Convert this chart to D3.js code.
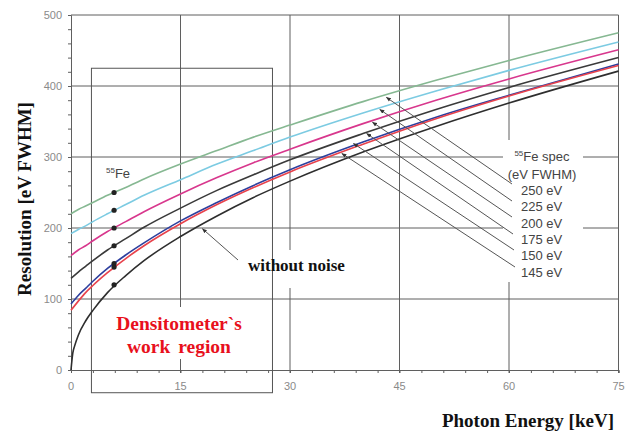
<!DOCTYPE html>
<html>
<head>
<meta charset="utf-8">
<script src="https://cdn.jsdelivr.net/npm/d3@7"></script>
<style>
	body { margin: 0; background: #fff; }
	svg { display: block; }
</style>
</head>
<body>
<div id="chart"></div>
<script>
const energies = [0, 1, 2, 3, 5, 7.5, 10, 15, 20, 25, 30, 40, 50, 60, 75]
const energiesBare = [0, 0.25, 0.5, 1, 2, 3, 5, 7.5, 10, 15, 20, 25, 30, 40, 50, 60, 75]

// resolution (eV FWHM) for each 55Fe spec
const res250 = [220, 226, 231, 236, 246, 257, 269, 290, 309, 328, 345, 378, 408, 436, 475]
const res225 = [192, 198, 203, 209, 220, 233, 246, 268, 290, 309, 328, 362, 393, 422, 462]
const res200 = [161, 169, 175, 182, 195, 209, 223, 248, 271, 292, 311, 347, 380, 410, 451]
const res175 = [129, 138, 146, 154, 169, 185, 201, 228, 253, 275, 296, 333, 367, 398, 440]
const res150 = [93, 105, 115, 125, 143, 162, 179, 210, 236, 260, 282, 321, 356, 387, 431]
const res145 = [84, 97, 109, 119, 137, 157, 175, 206, 233, 257, 279, 318, 354, 386, 429]
const resBare = [0, 24, 34, 49, 69, 84, 109, 133, 154, 188, 217, 243, 266, 307, 343, 376, 421]

// 55Fe points at 5.9 keV
const feEnergy = 5.9
const feValues = [250, 225, 200, 175, 150, 145, 120]

const specLabels = ["250 eV", "225 eV", "200 eV", "175 eV", "150 eV", "145 eV"]
const xTicks = [0, 15, 30, 45, 60, 75]
const yTicks = [0, 100, 200, 300, 400, 500]

const series = [
	{ values: res250, color: "#86b892" },
	{ values: res225, color: "#7ccbe2" },
	{ values: res200, color: "#d8378d" },
	{ values: res175, color: "#3a3a3a" },
	{ values: res150, color: "#2d3f9e" },
	{ values: res145, color: "#e8424c" }
]

const width = 627, height = 434
const margin = { top: 15, right: 8.5, bottom: 64, left: 71 }

const svg = d3.select("#chart")
	.append("svg")
	.attr("width", width)
	.attr("height", height)

const x = d3.scaleLinear().domain([0, 75]).range([margin.left, width - margin.right])
const y = d3.scaleLinear().domain([0, 500]).range([height - margin.bottom, margin.top])

const gridColor = "#5f5f5f"

// grid
svg.append("g")
	.selectAll("line")
	.data(yTicks.slice(1))
	.enter()
	.append("line")
		.attr("x1", x(0)).attr("x2", x(75))
		.attr("y1", d => y(d)).attr("y2", d => y(d))
		.attr("stroke", gridColor)
		.attr("stroke-width", 1)

svg.append("g")
	.selectAll("line")
	.data(xTicks.slice(1))
	.enter()
	.append("line")
		.attr("x1", d => x(d)).attr("x2", d => x(d))
		.attr("y1", y(0) + 3).attr("y2", y(500))
		.attr("stroke", gridColor)
		.attr("stroke-width", 1)

// axes with minor ticks
const xAxis = d3.axisBottom(x)
	.tickValues(d3.range(0, 76, 3))
	.tickSize(3)
	.tickFormat("")
const yAxis = d3.axisLeft(y)
	.tickValues(d3.range(0, 501, 20))
	.tickSize(3)
	.tickFormat("")

svg.append("g")
	.attr("transform", `translate(0,${y(0)})`)
	.call(xAxis)
	.call(g => g.select(".domain").attr("stroke", gridColor))
	.call(g => g.selectAll(".tick line").attr("stroke", gridColor))

svg.append("g")
	.attr("transform", `translate(${x(0)},0)`)
	.call(yAxis)
	.call(g => g.select(".domain").attr("stroke", gridColor))
	.call(g => g.selectAll(".tick line").attr("stroke", gridColor))

// tick labels
svg.append("g")
	.selectAll("text")
	.data(xTicks)
	.enter()
	.append("text")
		.attr("x", d => x(d))
		.attr("y", y(0) + 20)
		.attr("text-anchor", "middle")
		.attr("font-family", "Liberation Sans, Arial, sans-serif")
		.attr("font-size", 11)
		.attr("fill", "#8a8a8a")
		.text(d => d)

svg.append("g")
	.selectAll("text")
	.data(yTicks)
	.enter()
	.append("text")
		.attr("x", x(0) - 9)
		.attr("y", d => y(d) + 4)
		.attr("text-anchor", "end")
		.attr("font-family", "Liberation Sans, Arial, sans-serif")
		.attr("font-size", 11)
		.attr("fill", "#8a8a8a")
		.text(d => d)

// white patches behind annotations (grid is broken there)
const masks = [
	[110, 307, 140, 52],
	[244, 250, 108, 38],
	[503, 140, 80, 142]
]
svg.append("g")
	.selectAll("rect")
	.data(masks)
	.enter()
	.append("rect")
		.attr("x", d => d[0]).attr("y", d => d[1])
		.attr("width", d => d[2]).attr("height", d => d[3])
		.attr("fill", "#fff")

// work region box
svg.append("rect")
	.attr("x", x(2.8))
	.attr("y", y(425))
	.attr("width", x(27.6) - x(2.8))
	.attr("height", y(-32) - y(425))
	.attr("fill", "none")
	.attr("stroke", "#555")
	.attr("stroke-width", 1)

// curves
const line = d3.line()
	.x(d => x(d[0]))
	.y(d => y(d[1]))
	.curve(d3.curveMonotoneX)

series.forEach(s => {
	svg.append("path")
		.datum(energies.map((e, i) => [e, s.values[i]]))
		.attr("d", line)
		.attr("fill", "none")
		.attr("stroke", s.color)
		.attr("stroke-width", 1.6)
})

svg.append("path")
	.datum(energiesBare.map((e, i) => [e, resBare[i]]))
	.attr("d", line)
	.attr("fill", "none")
	.attr("stroke", "#2e2e2e")
	.attr("stroke-width", 1.6)

// 55Fe dots
svg.append("g")
	.selectAll("circle")
	.data(feValues)
	.enter()
	.append("circle")
		.attr("cx", x(feEnergy))
		.attr("cy", d => y(d))
		.attr("r", 2.6)
		.attr("fill", "#222")

const feLabel = svg.append("text")
	.attr("x", 106)
	.attr("y", 178)
	.attr("font-family", "Liberation Sans, Arial, sans-serif")
	.attr("font-size", 13)
	.attr("fill", "#444")
feLabel.append("tspan").attr("font-size", 8).attr("dy", -5).text("55")
feLabel.append("tspan").attr("dy", 5).text("Fe")

// arrows
svg.append("defs")
	.append("marker")
		.attr("id", "head")
		.attr("viewBox", "0 0 10 10")
		.attr("refX", 9)
		.attr("refY", 5)
		.attr("markerWidth", 5)
		.attr("markerHeight", 5)
		.attr("orient", "auto")
	.append("path")
		.attr("d", "M0,1 L10,5 L0,9 Z")
		.attr("fill", "#333")

// arrow tip energy / value on the curve, and label end (pixels)
const arrowTips = [[43.2, 384], [42.3, 367], [41.3, 349], [40.5, 333], [38.7, 319], [37.1, 305]]
const arrowTails = [[512, 184], [512, 201], [512, 217], [513, 234], [514, 250], [515, 267]]

svg.append("g")
	.selectAll("line")
	.data(arrowTips)
	.enter()
	.append("line")
		.attr("x1", (d, i) => arrowTails[i][0])
		.attr("y1", (d, i) => arrowTails[i][1])
		.attr("x2", d => x(d[0]))
		.attr("y2", d => y(d[1]))
		.attr("stroke", "#555")
		.attr("stroke-width", 1)
		.attr("marker-end", "url(#head)")

svg.append("line")
	.attr("x1", 238).attr("y1", 260)
	.attr("x2", x(18)).attr("y2", y(199))
	.attr("stroke", "#555")
	.attr("stroke-width", 1)
	.attr("marker-end", "url(#head)")

// legend
const legendX = 542
const legend = svg.append("g")
	.attr("font-family", "Liberation Sans, Arial, sans-serif")
	.attr("font-size", 13)
	.attr("fill", "#444")

const title = legend.append("text")
	.attr("x", legendX)
	.attr("y", 161)
	.attr("text-anchor", "middle")
title.append("tspan").attr("font-size", 8).attr("dy", -5).text("55")
title.append("tspan").attr("dy", 5).text("Fe spec")

legend.append("text")
	.attr("x", legendX)
	.attr("y", 179)
	.attr("text-anchor", "middle")
	.text("(eV FWHM)")

legend.selectAll(".spec")
	.data(specLabels)
	.enter()
	.append("text")
		.attr("class", "spec")
		.attr("x", 521)
		.attr("y", (d, i) => 195 + i * 16.3)
		.text(d => d)

// annotations
svg.append("text")
	.attr("x", 248)
	.attr("y", 271)
	.attr("font-family", "Liberation Serif, Times New Roman, serif")
	.attr("font-weight", "bold")
	.attr("font-size", 17)
	.attr("fill", "#111")
	.text("without noise")

svg.append("text")
	.attr("x", 179)
	.attr("y", 330)
	.attr("text-anchor", "middle")
	.attr("font-family", "Liberation Serif, Times New Roman, serif")
	.attr("font-weight", "bold")
	.attr("font-size", 19.5)
	.attr("fill", "#e8101c")
	.text("Densitometer`s")

svg.append("text")
	.attr("x", 179)
	.attr("y", 353)
	.attr("text-anchor", "middle")
	.attr("font-family", "Liberation Serif, Times New Roman, serif")
	.attr("font-weight", "bold")
	.attr("font-size", 19.5)
	.attr("fill", "#e8101c")
	.attr("word-spacing", 3)
	.text("work region")

svg.append("text")
	.attr("transform", "translate(31,199) rotate(-90)")
	.attr("text-anchor", "middle")
	.attr("font-family", "Liberation Serif, Times New Roman, serif")
	.attr("font-weight", "bold")
	.attr("font-size", 19)
	.attr("fill", "#111")
	.text("Resolution [eV FWHM]")

svg.append("text")
	.attr("x", 614)
	.attr("y", 427)
	.attr("text-anchor", "end")
	.attr("font-family", "Liberation Serif, Times New Roman, serif")
	.attr("font-weight", "bold")
	.attr("font-size", 19)
	.attr("fill", "#111")
	.text("Photon Energy [keV]")
</script>
</body>
</html>
